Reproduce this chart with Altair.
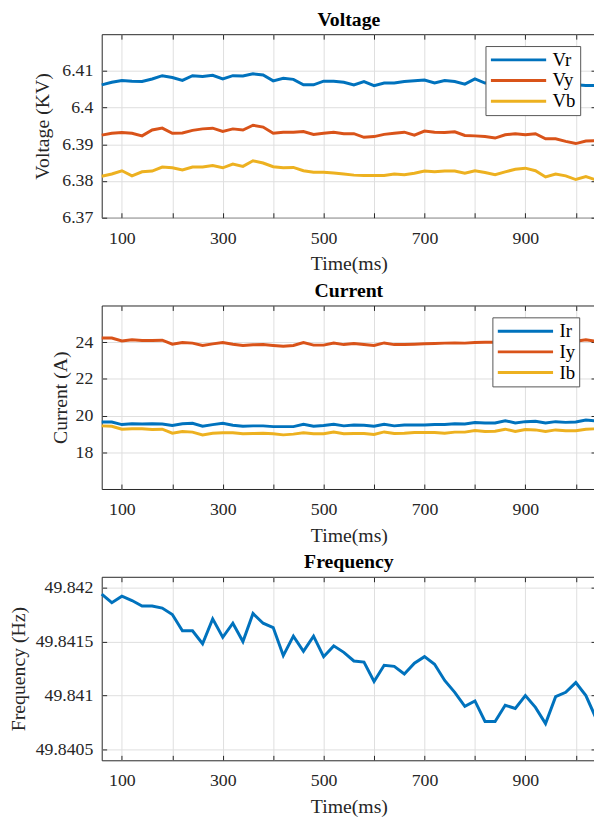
import altair as alt
import pandas as pd

time_ms = [60, 80, 100, 120, 140, 160, 180, 200, 220, 240,
           260, 280, 300, 320, 340, 360, 380, 400, 420, 440,
           460, 480, 500, 520, 540, 560, 580, 600, 620, 640,
           660, 680, 700, 720, 740, 760, 780, 800, 820, 840,
           860, 880, 900, 920, 940, 960, 980, 1000, 1020, 1040]

vr = [6.4062, 6.4069, 6.4074, 6.4072, 6.4071, 6.4078, 6.4087, 6.4082, 6.4074, 6.4087,
      6.4085, 6.4088, 6.4078, 6.4087, 6.4086, 6.4092, 6.4089, 6.4073, 6.4080, 6.4077,
      6.4062, 6.4062, 6.4072, 6.4072, 6.4069, 6.4062, 6.4071, 6.4060, 6.4067, 6.4067,
      6.4071, 6.4073, 6.4075, 6.4067, 6.4074, 6.4071, 6.4064, 6.4078, 6.4067, 6.4068,
      6.4072, 6.4070, 6.4073, 6.4068, 6.4065, 6.4069, 6.4066, 6.4062, 6.4060, 6.4060]
vy = [6.3925, 6.3930, 6.3932, 6.3930, 6.3923, 6.3939, 6.3944, 6.3930, 6.3931, 6.3938,
      6.3942, 6.3944, 6.3935, 6.3942, 6.3939, 6.3952, 6.3947, 6.3930, 6.3933, 6.3933,
      6.3935, 6.3927, 6.3930, 6.3933, 6.3929, 6.3929, 6.3919, 6.3921, 6.3927, 6.3930,
      6.3933, 6.3925, 6.3936, 6.3933, 6.3932, 6.3934, 6.3924, 6.3923, 6.3921, 6.3917,
      6.3926, 6.3929, 6.3926, 6.3929, 6.3915, 6.3915, 6.3908, 6.3902, 6.3909, 6.3910]
vb = [6.3813, 6.3819, 6.3828, 6.3814, 6.3825, 6.3827, 6.3838, 6.3836, 6.3830, 6.3838,
      6.3838, 6.3842, 6.3836, 6.3846, 6.3840, 6.3855, 6.3849, 6.3839, 6.3836, 6.3837,
      6.3828, 6.3824, 6.3824, 6.3822, 6.3819, 6.3816, 6.3815, 6.3815, 6.3815, 6.3819,
      6.3817, 6.3821, 6.3827, 6.3825, 6.3827, 6.3827, 6.3821, 6.3828, 6.3823, 6.3817,
      6.3825, 6.3832, 6.3835, 6.3828, 6.3811, 6.3819, 6.3814, 6.3804, 6.3812, 6.3803]

ir = [19.65, 19.65, 19.51, 19.56, 19.54, 19.56, 19.54, 19.46, 19.56, 19.58,
      19.42, 19.51, 19.58, 19.47, 19.42, 19.44, 19.44, 19.40, 19.40, 19.40,
      19.53, 19.42, 19.46, 19.53, 19.44, 19.49, 19.47, 19.42, 19.53, 19.44,
      19.49, 19.49, 19.49, 19.51, 19.51, 19.56, 19.54, 19.62, 19.60, 19.60,
      19.72, 19.60, 19.67, 19.69, 19.60, 19.67, 19.63, 19.65, 19.76, 19.71]
iy = [24.23, 24.23, 24.07, 24.13, 24.09, 24.09, 24.11, 23.89, 23.98, 23.95,
      23.82, 23.91, 23.98, 23.89, 23.82, 23.86, 23.87, 23.82, 23.78, 23.82,
      23.98, 23.84, 23.84, 23.96, 23.87, 23.93, 23.87, 23.82, 23.96, 23.87,
      23.87, 23.89, 23.91, 23.93, 23.95, 23.96, 23.95, 23.98, 24.00, 24.00,
      24.01, 24.00, 24.02, 24.01, 24.03, 24.02, 24.04, 24.05, 24.13, 24.05]
ib = [19.44, 19.42, 19.26, 19.28, 19.28, 19.24, 19.26, 19.04, 19.13, 19.10,
      18.95, 19.04, 19.06, 19.06, 19.01, 19.02, 19.04, 19.01, 18.95, 18.99,
      19.06, 19.01, 19.01, 19.10, 19.01, 19.02, 19.02, 18.97, 19.11, 19.02,
      19.04, 19.08, 19.08, 19.08, 19.04, 19.10, 19.10, 19.19, 19.13, 19.15,
      19.26, 19.13, 19.24, 19.22, 19.13, 19.22, 19.17, 19.17, 19.26, 19.28]

freq = [49.84194, 49.84186, 49.84192, 49.84188, 49.84183, 49.84183, 49.84181, 49.84175, 49.84160, 49.84160,
        49.84148, 49.84171, 49.84154, 49.84167, 49.84150, 49.84176, 49.84167, 49.84163, 49.84137, 49.84155,
        49.84141, 49.84155, 49.84136, 49.84146, 49.84140, 49.84132, 49.84131, 49.84113, 49.84128, 49.84127,
        49.84120, 49.84130, 49.84136, 49.84129, 49.84114, 49.84103, 49.84090, 49.84095, 49.84076, 49.84076,
        49.84091, 49.84088, 49.84100, 49.84089, 49.84074, 49.84099, 49.84103, 49.84112, 49.84100, 49.84079]

x_ticks = [100, 200, 300, 400, 500, 600, 700, 800, 900, 1000]
x_domain = [60, 1040]
volt_ticks = [6.37, 6.38, 6.39, 6.40, 6.41]
volt_domain = [6.37, 6.42]
curr_ticks = [18, 20, 22, 24]
curr_domain = [16, 26]
freq_ticks = [49.8405, 49.841, 49.8415, 49.842]
freq_domain = [49.8404, 49.8421]

colors = ["#0072BD", "#D95319", "#EDB120"]
FONT = "Liberation Serif"
W, H = 501, 186


def long_df(names, series):
    rows = []
    for n, s in zip(names, series):
        for t, v in zip(time_ms, s):
            rows.append({"t": t, "v": v, "s": n})
    return pd.DataFrame(rows)


def panel(df, names, title, ytitle, ydomain, yticks, ytpad, legend_x):
    xs = alt.Scale(domain=x_domain, nice=False, zero=False)
    ys = alt.Scale(domain=ydomain, nice=False, zero=False)
    leg = alt.Legend(title=None, orient="none", legendX=legend_x, legendY=12,
                     fillColor="white", strokeColor="#555555", padding=4,
                     symbolType="stroke", symbolSize=3136, symbolStrokeWidth=3,
                     labelFont=FONT, labelFontSize=19, labelColor="black",
                     rowPadding=1, labelOffset=5, clipHeight=20) if legend_x is not None else None
    lines = alt.Chart(df).mark_line(strokeWidth=3).encode(
        x=alt.X("t:Q", scale=xs, axis=alt.Axis(
            title="Time(ms)", values=x_ticks,
            labelExpr="datum.value % 200 == 100 ? datum.label : ''",
            ticks=False, domain=False, grid=True,
            labelPadding=12, titlePadding=7)),
        y=alt.Y("v:Q", scale=ys, axis=alt.Axis(
            title=ytitle, values=yticks, format="~g", ticks=False,
            domain=False, grid=True, labelPadding=9, titlePadding=ytpad)),
        color=alt.Color("s:N", scale=alt.Scale(domain=names, range=colors[:len(names)]),
                        legend=leg),
    )
    ghost_tr = alt.Chart(df).mark_line(strokeOpacity=0).encode(
        x=alt.X("t:Q", scale=xs, axis=alt.Axis(
            orient="top", values=x_ticks, labels=False, title=None, offset=-5,
            tickSize=5, domain=False, grid=False)),
        y=alt.Y("v:Q", scale=ys, axis=alt.Axis(
            orient="right", values=yticks, labels=False, title=None, offset=-5,
            tickSize=5, domain=False, grid=False)),
        detail="s:N",
    )
    ghost_bl = alt.Chart(df).mark_line(strokeOpacity=0).encode(
        x=alt.X("t:Q", scale=xs, axis=alt.Axis(
            orient="bottom", values=x_ticks, labels=False, title=None, offset=-5,
            tickSize=5, domain=False, grid=False)),
        y=alt.Y("v:Q", scale=ys, axis=alt.Axis(
            orient="left", values=yticks, labels=False, title=None, offset=-5,
            tickSize=5, domain=False, grid=False)),
        detail="s:N",
    )
    return alt.layer(lines, ghost_tr, ghost_bl).resolve_axis(
        x="independent", y="independent").properties(
        width=W, height=H,
        title=alt.TitleParams(title, font=FONT, fontSize=20, fontWeight="bold",
                              color="black", offset=4, anchor="middle"))


volt_df = long_df(["Vr", "Vy", "Vb"], [vr, vy, vb])
curr_df = long_df(["Ir", "Iy", "Ib"], [ir, iy, ib])
freq_df = long_df(["F"], [freq])

p1 = panel(volt_df, ["Vr", "Vy", "Vb"], "Voltage", "Voltage (KV)", volt_domain, volt_ticks, 9, 389)
p2 = panel(curr_df, ["Ir", "Iy", "Ib"], "Current", "Current (A)", curr_domain, curr_ticks, 5, 396)
p3 = panel(freq_df, ["F"], "Frequency", "Frequency (Hz)", freq_domain, freq_ticks, 7, None)

chart = alt.vconcat(p1, p2, p3, spacing=6).resolve_scale(color="independent").properties(
    padding={"left": 0, "top": -4, "right": -9, "bottom": 0},
    background="white",
).configure_view(stroke="#262626", strokeWidth=1).configure_axis(
    labelFont=FONT, labelFontSize=18, labelColor="#262626",
    titleFont=FONT, titleFontSize=20, titleColor="#262626", titleFontWeight="normal",
    gridColor="#dedede", gridWidth=1, tickColor="#262626", tickWidth=1,
)

chart.save("out.html", embed_options={"renderer": "svg", "actions": False})
